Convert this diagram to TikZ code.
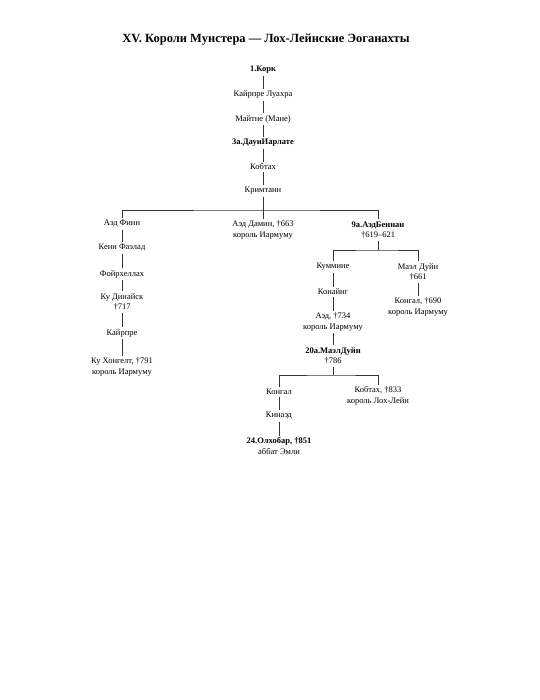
\documentclass[tikz,border=0pt]{standalone}
\usepackage{fontspec}
\setmainfont{Liberation Serif}
\usepackage{tikz}

\begin{document}
\begin{tikzpicture}[x=1pt,y=-1pt,
    person/.style={align=center,inner sep=1.8pt,font=\fontsize{8.5}{10.5}\selectfont},
    king/.style={person,font=\fontsize{8.5}{10.5}\selectfont\bfseries},
    link/.style={draw=black!80,line width=0.5pt}]
        \useasboundingbox (0,0) rectangle (539,700);
        % Title
        \node[font=\fontsize{12.5}{14}\selectfont\bfseries] (title) at (266,40)
            {XV. Короли Мунстера — Лох-Лейнские Эоганахты};
        % Main line
        \node[king]   (kork)     at (263,70)  {1.Корк};
        \node[person] (kairpre)  at (263,95)  {Кайрпре Луахра};
        \node[person] (maine)    at (263,119) {Майтне (Мане)};
        \node[king]   (daui)     at (263,143) {3а.ДауиИарлате};
        \node[person] (kobtah)   at (263,167) {Кобтах};
        \node[person] (krimtann) at (263,191) {Кримтанн};
        \node[person] (aeddamin) at (263,230) {Аэд Дамин, †663\\король Иармуму};
        % Left branch
        \node[person] (aedfinn)   at (122,224) {Аэд Финн};
        \node[person] (kenn)      at (122,248) {Кенн Фаэлад};
        \node[person] (foirh)     at (122,274) {Фойрхеллах};
        \node[person] (kudinaisk) at (122,302) {Ку Динайск\\†717};
        \node[person] (kairpreb)  at (122,333) {Кайрпре};
        \node[person] (kuhongelt) at (122,367) {Ку Хонгелт, †791\\король Иармуму};
        % Right branch
        \node[person] (aedbennan) at (378,230) {{\bfseries 9а.АэдБеннан}\\†619–621};
        \node[person] (kummine)   at (333,267) {Куммине};
        \node[person] (maeldujn)  at (418,272) {Маэл Дуйн\\†661};
        \node[person] (konaing)   at (333,292) {Конайнг};
        \node[person] (kongalb)   at (418,307) {Конгал, †690\\король Иармуму};
        \node[person] (aed)       at (333,322) {Аэд, †734\\король Иармуму};
        \node[person] (maelduin)  at (333,356) {{\bfseries 20а.МаэлДуйн}\\†786};
        \node[person] (kongal)    at (279,392) {Конгал};
        \node[person] (kobtahb)   at (378,396) {Кобтах, †833\\король Лох-Лейн};
        \node[person] (kinaed)    at (279,416) {Кинаэд};
        \node[person] (olhobar)   at (279,446) {{\bfseries 24.Олхобар, †851}\\аббат Эмли};
        % Bars where the line splits
        \coordinate (bar1) at (263,210);
        \coordinate (bar2) at (378,250);
        \coordinate (bar3) at (333,375);
        % Parent to child
        \foreach \a/\b in {kork/kairpre, kairpre/maine, maine/daui, daui/kobtah,
            kobtah/krimtann, krimtann/aeddamin, aedfinn/kenn, kenn/foirh,
            foirh/kudinaisk, kudinaisk/kairpreb, kairpreb/kuhongelt,
            kummine/konaing, konaing/aed, aed/maelduin, maeldujn/kongalb,
            kongal/kinaed, kinaed/olhobar} {
            \draw[link] (\a) -- (\b);
        }
        \draw[link] (aedfinn.north) |- (bar1) -| (aedbennan.north);
        \draw[link] (aedbennan) -- (bar2);
        \draw[link] (kummine.north) |- (bar2) -| (maeldujn.north);
        \draw[link] (maelduin) -- (bar3);
        \draw[link] (kongal.north) |- (bar3) -| (kobtahb.north);
    \end{tikzpicture}
\end{document}
